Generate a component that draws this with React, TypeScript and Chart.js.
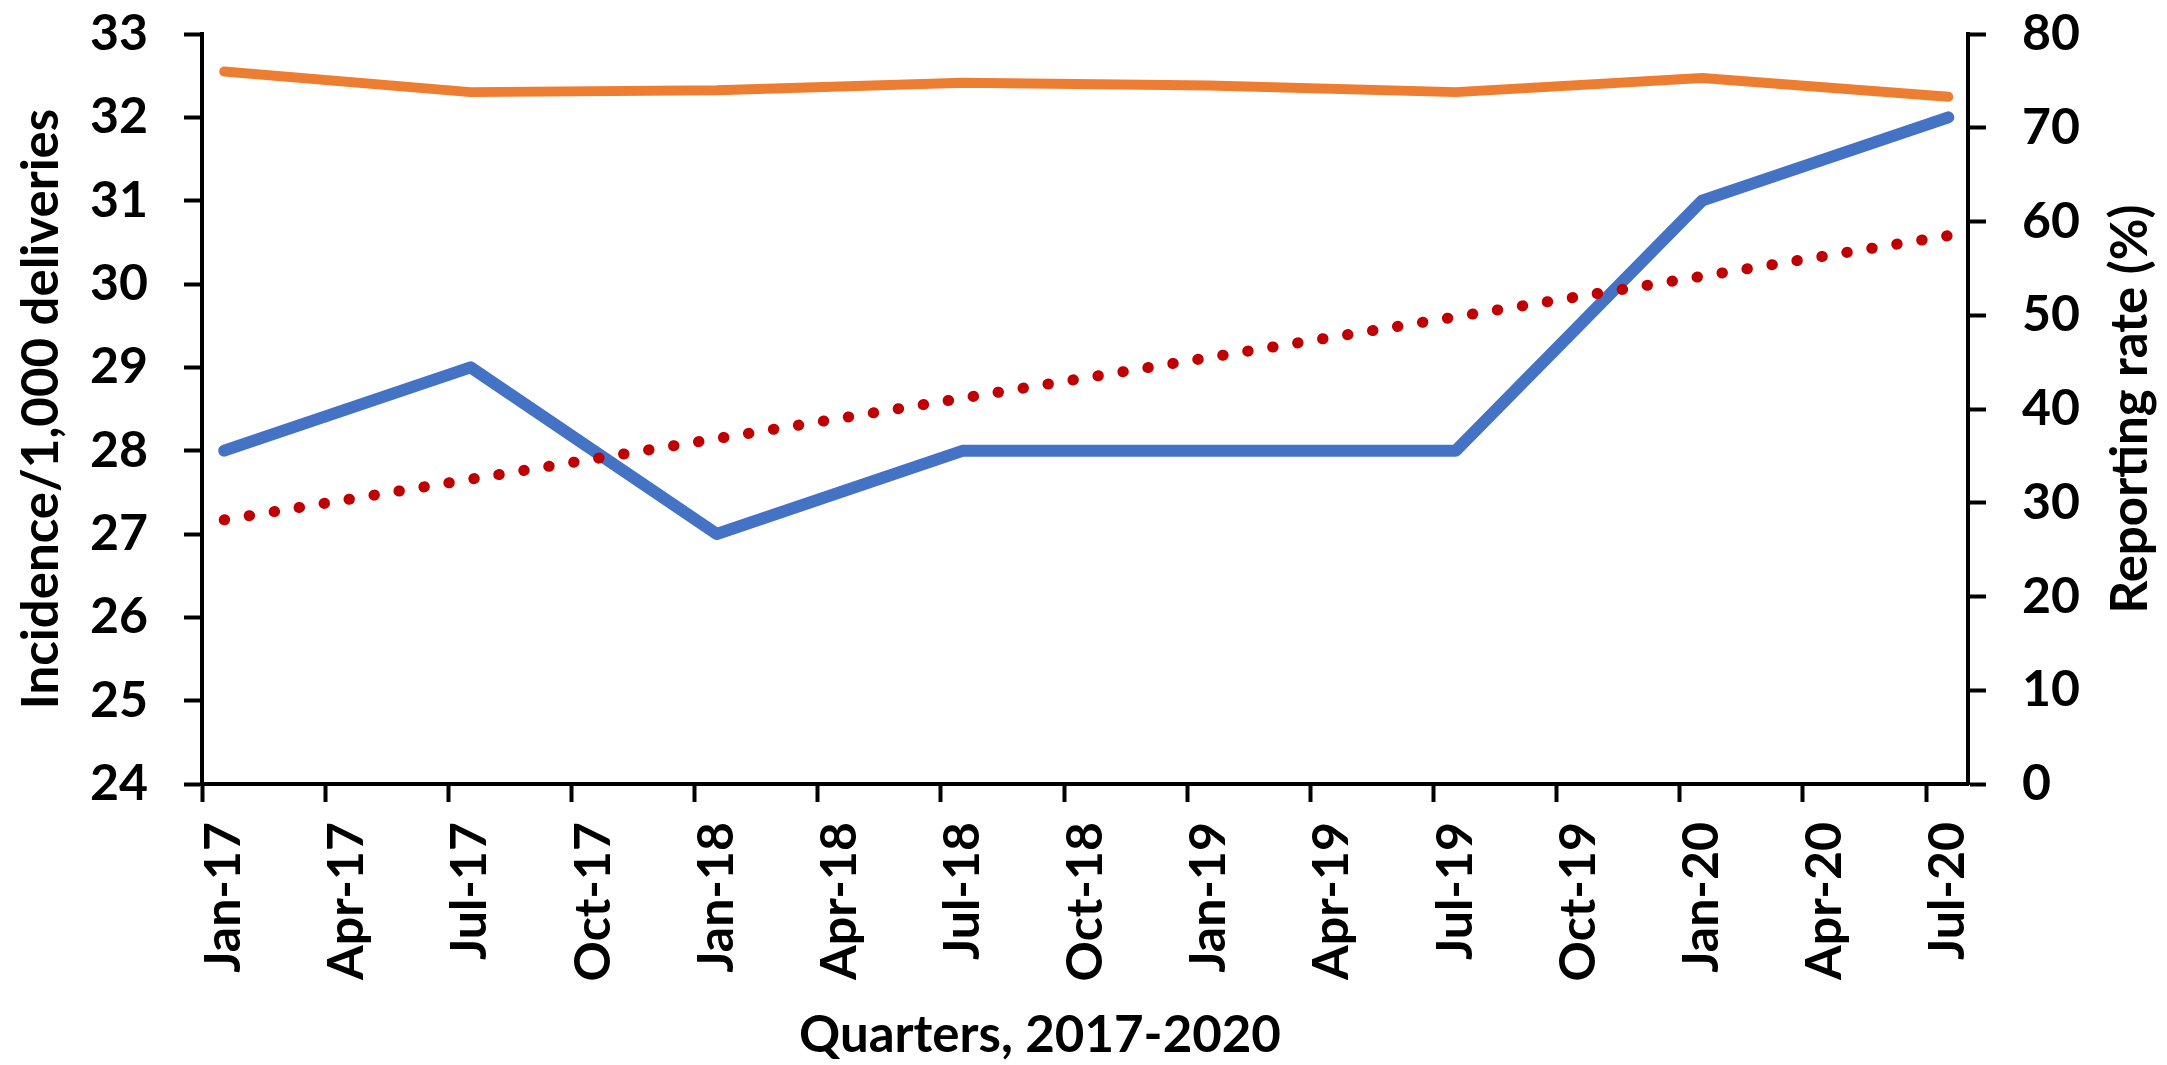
import { useEffect, useRef } from 'react';
import { Chart, registerables } from 'chart.js';

Chart.register(...registerables);

// ---- data ----
const quarterLabels = [
  'Jan-17', 'Apr-17', 'Jul-17', 'Oct-17',
  'Jan-18', 'Apr-18', 'Jul-18', 'Oct-18',
  'Jan-19', 'Apr-19', 'Jul-19', 'Oct-19',
  'Jan-20', 'Apr-20', 'Jul-20',
];
const periods = ['Jan-17', 'Jul-17', 'Jan-18', 'Jul-18', 'Jan-19', 'Jul-19', 'Jan-20', 'Jul-20'];
const incidence = [28, 29, 27, 28, 28, 28, 31, 32];
const reportingRate = [76, 73.8, 74, 74.8, 74.5, 73.8, 75.3, 73.3];
const trendPeriods = ['Jan-17', 'Jul-20'];
const incidenceTrend = [27.17, 30.58];

const leftTitle = 'Incidence/1,000 deliveries';
const rightTitle = 'Reporting rate (%)';
const bottomTitle = 'Quarters, 2017-2020';

// ---- style ----
const FONT = 'Lato';
const tickFont = { family: FONT, size: 50, weight: 'bold' as const };
const titleFont = { family: FONT, size: 51, weight: 'bold' as const };
const tickShift = 0.18; // tick marks sit slightly left of the label/point positions

const toPoints = (xs: string[], ys: number[]) =>
  xs.map((p, i) => ({ x: quarterLabels.indexOf(p), y: ys[i] }));

const titlesPlugin = {
  id: 'extraTitles',
  afterDraw(chart: any) {
    const { ctx } = chart;
    const y1 = chart.scales.y1;
    const x = chart.scales.x;
    ctx.save();
    ctx.fillStyle = '#000';
    ctx.font = `bold ${titleFont.size}px ${FONT}`;
    ctx.textAlign = 'center';
    ctx.textBaseline = 'middle';
    // right axis title, reading bottom-to-top
    ctx.save();
    ctx.translate(y1.right - 36, (y1.top + y1.bottom) / 2);
    ctx.rotate(-Math.PI / 2);
    ctx.fillText(rightTitle, 0, 0);
    ctx.restore();
    // bottom axis title
    ctx.fillText(bottomTitle, (x.left + x.right) / 2 - 45, x.bottom - 29);
    ctx.restore();
  },
};

const noEdgePadding = (s: any) => {
  s.paddingTop = 0;
  s.paddingBottom = 0;
};

export default function App() {
  const ref = useRef<HTMLCanvasElement | null>(null);

  useEffect(() => {
    if (!ref.current) return;
    const chart = new Chart(ref.current, {
      type: 'line',
      data: {
        datasets: [
          {
            label: 'Trend',
            data: toPoints(trendPeriods, incidenceTrend),
            yAxisID: 'y',
            borderColor: '#C00000',
            borderWidth: 11,
            borderDash: [0.5, 24.8],
            borderCapStyle: 'round',
            pointRadius: 0,
            order: 0,
          },
          {
            label: 'Incidence',
            data: toPoints(periods, incidence),
            yAxisID: 'y',
            borderColor: '#4472C4',
            borderWidth: 12,
            borderCapStyle: 'round',
            borderJoinStyle: 'round',
            pointRadius: 0,
            order: 1,
          },
          {
            label: 'Reporting rate',
            data: toPoints(periods, reportingRate),
            yAxisID: 'y1',
            borderColor: '#ED7D31',
            borderWidth: 10,
            borderCapStyle: 'round',
            borderJoinStyle: 'round',
            pointRadius: 0,
            order: 2,
          },
        ],
      },
      options: {
        animation: false,
        responsive: false,
        devicePixelRatio: 1,
        layout: { padding: { top: 34, left: 0, right: 0, bottom: 0 } },
        plugins: { legend: { display: false }, tooltip: { enabled: false } },
        scales: {
          x: {
            type: 'linear',
            min: -tickShift,
            max: 14.16,
            afterBuildTicks: (s: any) => {
              s.ticks = quarterLabels.map((_, i) => ({ value: i - tickShift }));
            },
            afterFit: (s: any) => {
              s.height = 281;
            },
            ticks: {
              autoSkip: false,
              minRotation: 90,
              maxRotation: 90,
              labelOffset: 22,
              padding: 20,
              color: '#000',
              font: tickFont,
              callback: (_v: any, i: number) => quarterLabels[i],
            },
            grid: {
              drawOnChartArea: false,
              drawTicks: true,
              tickLength: 18,
              tickWidth: 4,
              tickColor: '#000',
            },
            border: { color: '#000', width: 4 },
          },
          y: {
            type: 'linear',
            position: 'left',
            min: 24,
            max: 33,
            afterFit: (s: any) => {
              s.width = 202;
              noEdgePadding(s);
            },
            ticks: { stepSize: 1, padding: 36, color: '#000', font: tickFont },
            grid: {
              drawOnChartArea: false,
              tickLength: 18,
              tickWidth: 4,
              tickColor: '#000',
            },
            border: { color: '#000', width: 4 },
            title: {
              display: true,
              text: leftTitle,
              color: '#000',
              font: titleFont,
              padding: { top: 11, bottom: 0 },
            },
          },
          y1: {
            type: 'linear',
            position: 'right',
            min: 0,
            max: 80,
            afterFit: (s: any) => {
              s.width = 199;
              noEdgePadding(s);
            },
            ticks: { stepSize: 10, padding: 36, color: '#000', font: tickFont },
            grid: {
              drawOnChartArea: false,
              tickLength: 18,
              tickWidth: 4,
              tickColor: '#000',
            },
            border: { color: '#000', width: 4 },
          },
        },
      },
      plugins: [titlesPlugin],
    } as any);
    return () => chart.destroy();
  }, []);

  return (
    <div style={{ position: 'fixed', left: 0, top: 0, width: 2167, height: 1065, background: '#fff' }}>
      <canvas ref={ref} width={2167} height={1065} />
    </div>
  );
}
